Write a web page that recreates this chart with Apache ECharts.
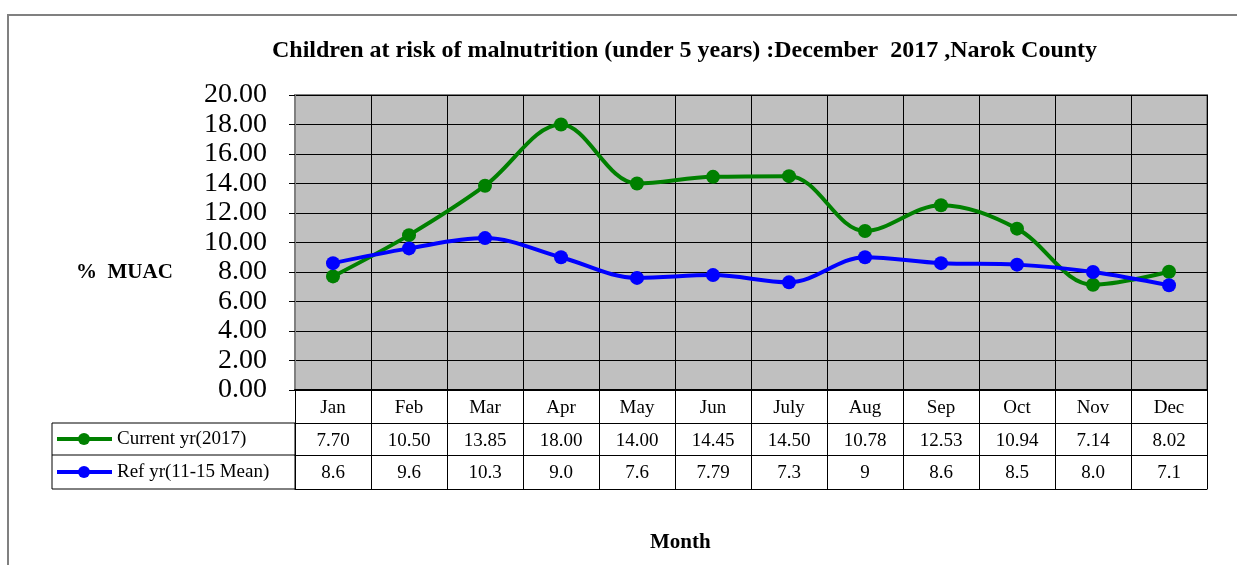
<!DOCTYPE html>
<html>
<head>
<meta charset="utf-8">
<script src="https://cdn.jsdelivr.net/npm/echarts@6/dist/echarts.min.js"></script>
<style>
html,body{margin:0;padding:0;background:#fff;}
#chart{width:1237px;height:565px;}
</style>
</head>
<body>
<div id="chart"></div>
<script>
const months = ['Jan','Feb','Mar','Apr','May','Jun','July','Aug','Sep','Oct','Nov','Dec'];
const currentValues = [7.70, 10.50, 13.85, 18.00, 14.00, 14.45, 14.50, 10.78, 12.53, 10.94, 7.14, 8.02];
const refValues = [8.6, 9.6, 10.3, 9.0, 7.6, 7.79, 7.3, 9, 8.6, 8.5, 8.0, 7.1];
const currentLabels = ['7.70','10.50','13.85','18.00','14.00','14.45','14.50','10.78','12.53','10.94','7.14','8.02'];
const refLabels = ['8.6','9.6','10.3','9.0','7.6','7.79','7.3','9','8.6','8.5','8.0','7.1'];
const seriesNames = ['Current yr(2017)', 'Ref yr(11-15 Mean)'];
const seriesColors = ['#008000', '#0000ff'];
const titleText = 'Children at risk of malnutrition (under 5 years) :December  2017 ,Narok County';

const SERIF = '"Liberation Serif","Times New Roman",serif';
const chart = echarts.init(document.getElementById('chart'), null, {renderer:'canvas'});

const G = {left:295, top:95, width:912, height:295};
const rowY = [390, 423, 455, 489];

function tableAxis(idx, offset, labels, tickLen, showLabels) {
  return {
    type:'category', data:months, gridIndex:0, position:'bottom', offset:offset,
    boundaryGap:true,
    axisLine:{show:true, lineStyle:{color:'#000', width: idx===0 ? 2 : 1}},
    axisTick:{show:tickLen>0, length:tickLen, interval:0, lineStyle:{color:'#000', width:1}},
    axisLabel:{show:showLabels, interval:0, margin:9, color:'#000', fontFamily:SERIF, fontSize:19,
      formatter:(v, i) => labels ? labels[i] : v},
    splitLine:{show: idx===0, interval:0, lineStyle:{color:'#000', width:1}}
  };
}

const legendGraphics = [];
seriesNames.forEach((n, k) => {
  const cy = (rowY[k+1] + rowY[k+2]) / 2;
  legendGraphics.push({type:'line', shape:{x1:57, y1:cy, x2:112, y2:cy}, style:{stroke:seriesColors[k], lineWidth:4}});
  legendGraphics.push({type:'circle', shape:{cx:84, cy:cy, r:6}, style:{fill:seriesColors[k]}});
  legendGraphics.push({type:'text', left:117, top:cy-9, style:{text:n, fill:'#000', font:'19px ' + SERIF}});
});

chart.setOption({
  animation:false,
  backgroundColor:'#fff',
  title:{text:titleText, left:267, top:34,
    textStyle:{fontFamily:SERIF, fontWeight:'bold', fontSize:24, color:'#000'}},
  grid:{left:G.left, top:G.top, width:G.width, height:G.height, show:true,
    backgroundColor:'#c0c0c0', borderColor:'#808080', borderWidth:2},
  xAxis:[
    tableAxis(0, 0, null, 33, true),
    tableAxis(1, 33, currentLabels, 32, true),
    tableAxis(2, 65, refLabels, 34, true),
    tableAxis(3, 99, null, 0, false)
  ],
  yAxis:{type:'value', min:0, max:20, interval:2,
    axisLine:{show:true, lineStyle:{color:'#808080', width:2}},
    axisTick:{show:true, inside:false, length:6, lineStyle:{color:'#000', width:1}},
    axisLabel:{margin:28, color:'#000', fontFamily:SERIF, fontSize:28, formatter:v => v.toFixed(2)},
    splitLine:{show:true, lineStyle:{color:'#000', width:1}}},
  series:[
    {name:seriesNames[0], type:'line', data:currentValues, smooth:0.35, symbol:'circle', symbolSize:14,
      lineStyle:{color:seriesColors[0], width:4}, itemStyle:{color:seriesColors[0]}, z:3},
    {name:seriesNames[1], type:'line', data:refValues, smooth:0.35, symbol:'circle', symbolSize:14,
      lineStyle:{color:seriesColors[1], width:4}, itemStyle:{color:seriesColors[1]}, z:4}
  ],
  graphic:[
    {type:'rect', shape:{x:8, y:15, width:1300, height:700}, style:{fill:'none', stroke:'#808080', lineWidth:2}, z:-10},
    {type:'rect', shape:{x:52, y:rowY[1], width:G.left-52, height:rowY[3]-rowY[1]}, style:{fill:'none', stroke:'#000', lineWidth:1}},
    {type:'line', shape:{x1:52, y1:rowY[2], x2:G.left, y2:rowY[2]}, style:{stroke:'#000', lineWidth:1}},
    {type:'text', left:76, top:262, style:{text:'%  MUAC', fill:'#000', font:'bold 21px ' + SERIF}},
    {type:'text', left:650, top:532, style:{text:'Month', fill:'#000', font:'bold 21px ' + SERIF}}
  ].concat(legendGraphics)
});
</script>
</body>
</html>
